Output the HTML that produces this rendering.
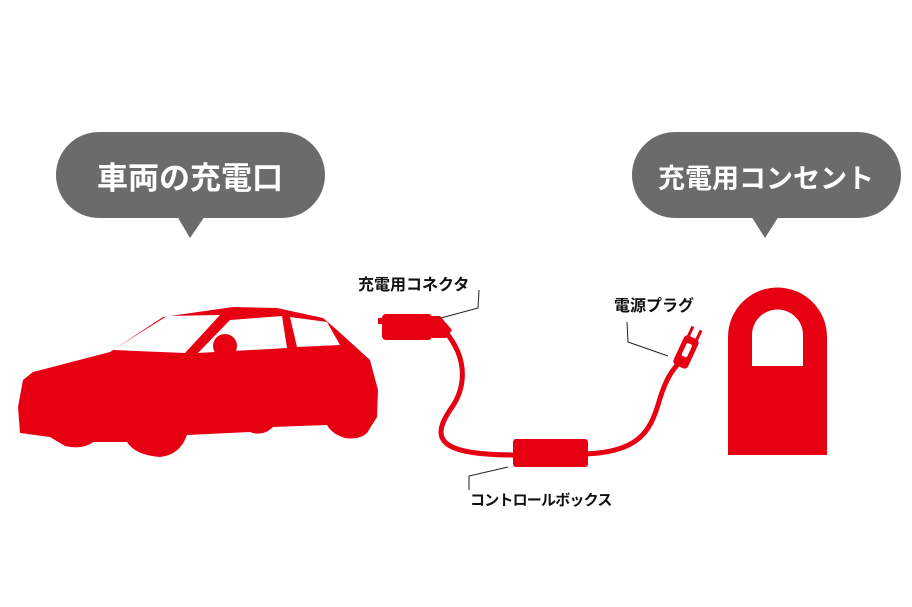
<!DOCTYPE html>
<html><head><meta charset="utf-8"><style>
html,body{margin:0;padding:0;background:#fff;}
svg{display:block}
text{font-family:"Liberation Sans","Noto Sans CJK JP",sans-serif;font-weight:bold;}
</style></head><body>
<svg width="912" height="607" viewBox="0 0 912 607" xmlns="http://www.w3.org/2000/svg">
<rect width="912" height="607" fill="#fff"/>
<rect x="56" y="132" width="269" height="86" rx="43" fill="#6b6b6b"/>
<polygon points="177,216 205,216 190,238" fill="#6b6b6b"/>
<text x="190" y="189" text-anchor="middle" font-size="31" fill="#fff">車両の充電口</text>
<rect x="632" y="132" width="269" height="86" rx="43" fill="#6b6b6b"/>
<polygon points="751,216 779,216 765,238" fill="#6b6b6b"/>
<text x="766" y="188" text-anchor="middle" font-size="27" fill="#fff">充電用コンセント</text>
<path fill="#e60012" d="M33,372 L110,352 L163,317 L233,307 L277,308 L323,318 L337,330 L370,360 L378,390 L377,417 L367,433 Q360,440 345,438 Q332,434 327,425 L273,427 Q263,437 250,432 L187,435 Q180,455 160,457 Q135,455 127,442 L93,442 Q83,450 65,446 L50,437 L20,433 L18,407 L23,380 Z"/>
<path fill="#fff" d="M113,350 L167,316 L220,315 L185,353 Z"/>
<path fill="#fff" d="M198,353 L230,320 L282,316 L287,348 Z"/>
<circle cx="225" cy="346" r="12" fill="#e60012"/>
<path fill="#fff" d="M290,317 L327,322 L340,345 L297,347 Z"/>
<rect x="382" y="314" width="50" height="26" rx="4" fill="#e60012"/>
<rect x="378" y="318" width="8" height="6" fill="#e60012"/>
<path d="M430,316 L440,316 L452,330 L446,338 L432,338 Z" fill="#e60012"/>
<path d="M444,330 C470,360 465,390 450,410 C430,440 440,455 515,455" fill="none" stroke="#e60012" stroke-width="5"/>
<path d="M585,454 C640,452 650,430 658,405 C665,380 672,370 680,362" fill="none" stroke="#e60012" stroke-width="5"/>
<rect x="513" y="439" width="75" height="28" rx="3" fill="#e60012"/>
<g transform="translate(686,352) rotate(25)">
<rect x="-8" y="-16" width="16" height="32" rx="4" fill="#e60012"/>
<rect x="-3" y="-9" width="6" height="14" rx="2" fill="#fff"/>
<rect x="-6" y="-26" width="3" height="11" fill="#e60012"/>
<rect x="3" y="-26" width="3" height="11" fill="#e60012"/>
</g>
<path d="M728,455 L728,337 A49.5,49.5 0 0 1 827,337 L827,455 Z" fill="#e60012"/>
<path d="M752,366 L752,335 A25.5,25.5 0 0 1 803,335 L803,366 Z" fill="#fff"/>
<polyline points="479,290 478,308 441,318" fill="none" stroke="#222" stroke-width="1"/>
<polyline points="627,322 628,342 668,356" fill="none" stroke="#222" stroke-width="1"/>
<polyline points="469,490 469,476 508,467" fill="none" stroke="#222" stroke-width="1"/>
<text x="358" y="290" font-size="16" fill="#111">充電用コネクタ</text>
<text x="614" y="311" font-size="16" fill="#111">電源プラグ</text>
<text x="470" y="505" font-size="15" letter-spacing="-0.8" fill="#111">コントロールボックス</text>
</svg>
</body></html>
